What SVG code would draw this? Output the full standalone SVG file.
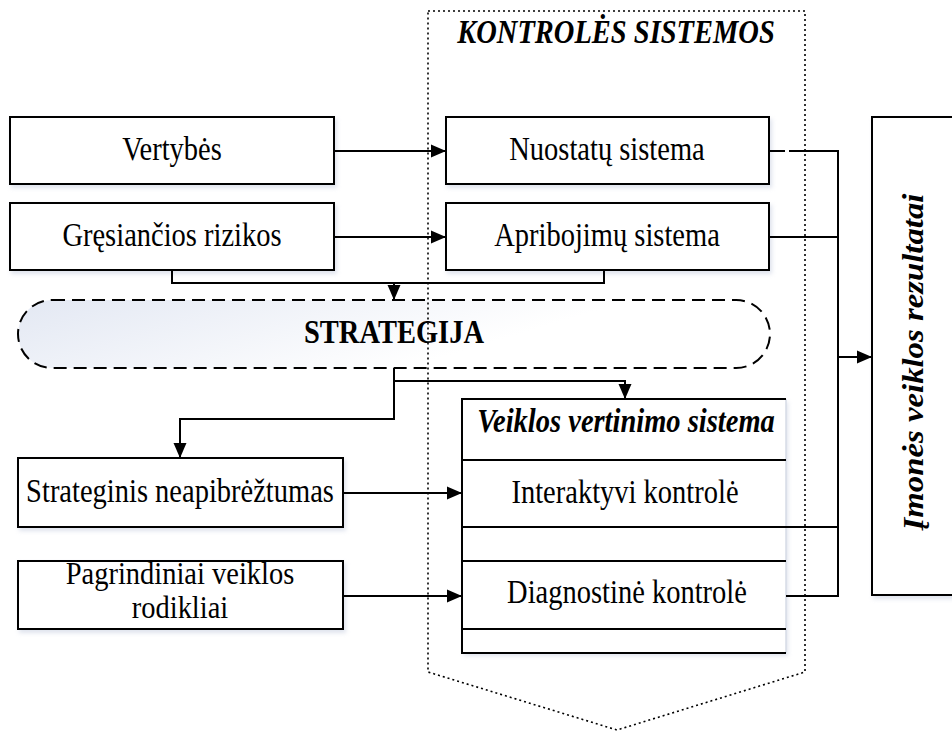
<svg xmlns="http://www.w3.org/2000/svg" width="952" height="731" viewBox="0 0 952 731">
<defs>
<style>
.box{fill:#fff;stroke:#000;stroke-width:2;filter:url(#sh)}
.t{font-family:"Liberation Serif","Times New Roman",serif;font-size:28.5px;fill:#000;text-anchor:middle}
.bi{font-weight:bold;font-style:italic}
.b{font-weight:bold}
.c{fill:none;stroke:#000;stroke-width:2}
.ca{fill:none;stroke:#000;stroke-width:2;marker-end:url(#ah)}
</style>
<filter id="sh" x="-5%" y="-10%" width="115%" height="130%">
<feDropShadow dx="2" dy="3" stdDeviation="2" flood-color="#b8c2d8" flood-opacity="0.45"/>
</filter>
<linearGradient id="g" x1="0" y1="0" x2="1" y2="0.3">
<stop offset="0" stop-color="#e3e8f3"/>
<stop offset="0.75" stop-color="#ffffff"/>
</linearGradient>
<marker id="ah" markerUnits="userSpaceOnUse" markerWidth="15" markerHeight="14" refX="15" refY="7" orient="auto">
<path d="M0,0.5 L15,7 L0,13.5 Z" fill="#000"/>
</marker>
</defs>

<g id="rezultatai">
<rect class="box" x="872" y="117" width="100" height="478"/>
<text class="t bi" transform="translate(923,362) scale(1,1.15) rotate(-90)">Įmonės veiklos rezultatai</text>
</g>

<g id="vertybes">
<rect class="box" x="10" y="117" width="324" height="67"/>
<text class="t" transform="translate(172,160) scale(1,1.15)">Vertybės</text>
</g>
<g id="gresiancios">
<rect class="box" x="10" y="203" width="324" height="67"/>
<text class="t" transform="translate(172,246) scale(1,1.15)">Gręsiančios rizikos</text>
</g>
<g id="nuostatu">
<rect class="box" x="446" y="117" width="323" height="67"/>
<text class="t" transform="translate(607,160) scale(1,1.15)">Nuostatų sistema</text>
</g>
<g id="apribojimu">
<rect class="box" x="446" y="203" width="323" height="67"/>
<text class="t" transform="translate(607,246) scale(1,1.15)">Apribojimų sistema</text>
</g>

<g id="strategija">
<rect x="18" y="300" width="752" height="68" rx="34" ry="34" fill="url(#g)" stroke="#000" stroke-width="2" stroke-dasharray="13 7"/>
<text class="t b" transform="translate(394,343) scale(1,1.15)">STRATEGIJA</text>
</g>

<g id="strateginis">
<rect class="box" x="18" y="458" width="325" height="69"/>
<text class="t" transform="translate(180,502) scale(1,1.15)">Strateginis neapibrėžtumas</text>
</g>
<g id="pagrindiniai">
<rect class="box" x="18" y="561" width="325" height="68"/>
<text class="t" transform="translate(180,584) scale(1,1.1)">Pagrindiniai veiklos</text>
<text class="t" transform="translate(180,618) scale(1,1.1)">rodikliai</text>
</g>

<g id="veiklos">
<rect x="462" y="399" width="324" height="254" fill="#fff" filter="url(#sh)"/>
<path d="M786,399 V653" stroke="#d6dbe6" stroke-width="1.5" fill="none"/>
<path d="M786,399 H462 V653 H786" fill="none" stroke="#000" stroke-width="2"/>
<path d="M462,460 H786 M462,527 H786 M462,561 H786 M462,629 H786" fill="none" stroke="#000" stroke-width="2"/>
<text class="t bi" transform="translate(626,432) scale(1,1.15)">Veiklos vertinimo sistema</text>
<text class="t" transform="translate(625,503) scale(1,1.15)">Interaktyvi kontrolė</text>
<text class="t" transform="translate(627,603) scale(1,1.15)">Diagnostinė kontrolė</text>
</g>

<g id="connectors">
<path class="ca" d="M334,151 H446"/>
<path class="ca" d="M334,237 H446"/>
<path class="c" d="M172,270 V283 H604 V270"/>
<path class="ca" d="M394,283 V300"/>
<path class="ca" d="M394,368 V419 H180 V458"/>
<path class="ca" d="M394,381 H625 V399"/>
<path class="ca" d="M343,493 H462"/>
<path class="ca" d="M343,596 H462"/>
<path class="c" d="M769,151 H785 M789,151 H838"/>
<path class="c" d="M769,237 H838"/>
<path class="c" d="M786,527 H838"/>
<path class="c" d="M786,596 H838"/>
<path class="c" d="M838,150 V597"/>
<path class="ca" d="M838,357 H872"/>
</g>

<g id="kontroles">
<path d="M428,11 H805 V672 L617,730 L428,672 Z" fill="none" stroke="#000" stroke-width="1.6" stroke-dasharray="2 3"/>
<text class="t bi" transform="translate(616,43) scale(1,1.15)">KONTROLĖS SISTEMOS</text>
</g>
</svg>
